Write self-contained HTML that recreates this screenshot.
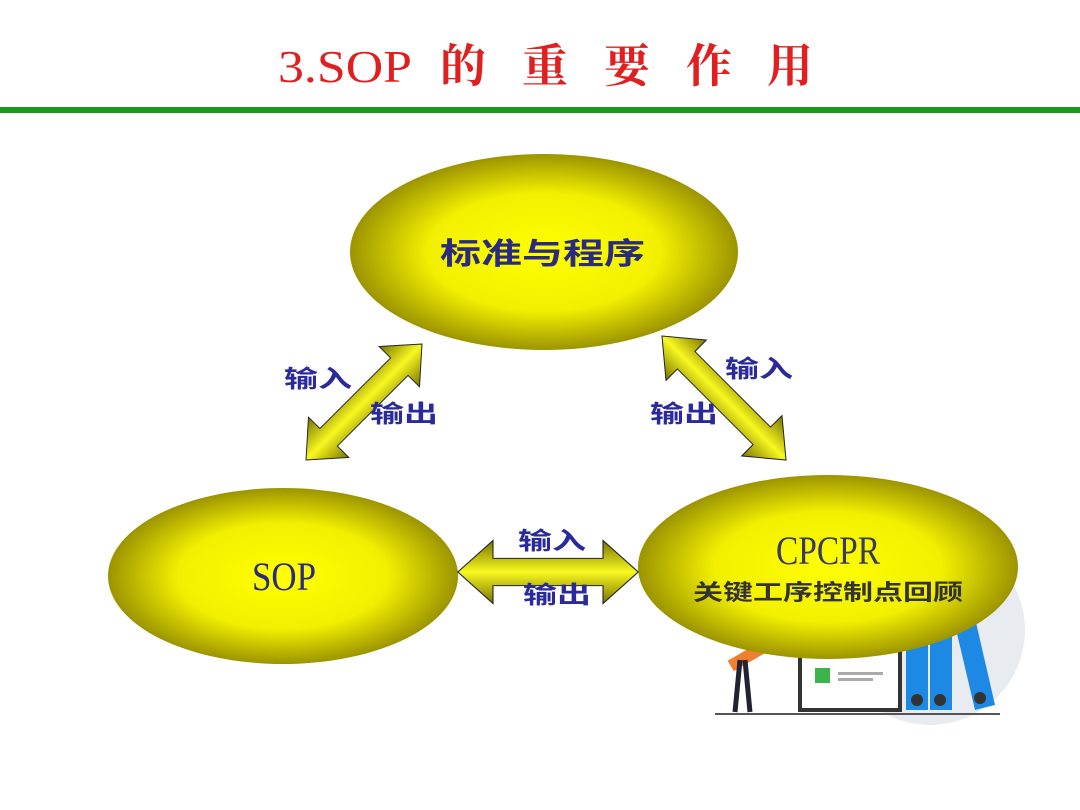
<!DOCTYPE html>
<html><head><meta charset="utf-8"><style>
body{margin:0;background:#fff;}
svg{display:block;}
</style></head><body>
<svg width="1080" height="810" viewBox="0 0 1080 810" xmlns="http://www.w3.org/2000/svg">
<defs>
<radialGradient id="g" cx="50%" cy="50%" r="50%">
<stop offset="0" stop-color="#ffff00"/><stop offset="0.6" stop-color="#f2f000"/><stop offset="1" stop-color="#9c9400"/>
</radialGradient>
<linearGradient id="a" x1="0" y1="0" x2="0" y2="1">
<stop offset="0" stop-color="#7a7400"/><stop offset="0.5" stop-color="#f8f820"/><stop offset="1" stop-color="#7a7400"/>
</linearGradient>
<g id="arr"><polygon points="-82,0 -50,-30 -50,-13 50,-13 50,-30 82,0 50,30 50,13 -50,13 -50,30" fill="url(#a)" stroke="#222" stroke-width="1"/></g>
</defs>
<g fill="#e02020">
<text x="278" y="82" textLength="134" lengthAdjust="spacingAndGlyphs" font-family="'Liberation Serif',serif" font-size="46">3.SOP</text>
<g font-family="'Noto Serif CJK SC','Noto Sans CJK SC',serif" font-size="46" font-weight="bold">
<text x="440" y="82">的</text><text x="522" y="82">重</text><text x="604" y="82">要</text><text x="686" y="82">作</text><text x="767" y="82">用</text>
</g></g>
<rect x="0" y="107" width="1080" height="6" fill="#1a9a1a"/>

<!-- illustration -->
<circle cx="930" cy="630" r="95" fill="#e8ecf0"/>
<rect x="800" y="635" width="100" height="75" fill="#fff" stroke="#333" stroke-width="4"/>
<rect x="815" y="668" width="15" height="15" fill="#3cb44a"/>
<rect x="838" y="672" width="45" height="3" fill="#aaa"/><rect x="838" y="678" width="35" height="3" fill="#aaa"/>
<rect x="906" y="640" width="22" height="70" fill="#1e88e5"/><rect x="930" y="630" width="22" height="80" fill="#1e88e5"/>
<polygon points="955,625 975,618 995,705 975,710" fill="#1e88e5"/>
<circle cx="917" cy="700" r="6" fill="#333"/><circle cx="940" cy="700" r="6" fill="#333"/><circle cx="980" cy="698" r="6" fill="#333"/>
<rect x="728" y="650" width="40" height="12" fill="#f08030" transform="rotate(-30 748 656)"/>
<line x1="740" y1="660" x2="735" y2="712" stroke="#223" stroke-width="5"/><line x1="745" y1="660" x2="750" y2="712" stroke="#223" stroke-width="5"/>
<line x1="715" y1="714" x2="1000" y2="714" stroke="#555" stroke-width="2"/>

<ellipse cx="544" cy="252" rx="194" ry="98" fill="url(#g)"/>
<ellipse cx="283" cy="576" rx="175" ry="88" fill="url(#g)"/>
<ellipse cx="828" cy="567" rx="190" ry="92" fill="url(#g)"/>

<use href="#arr" transform="translate(364,402) rotate(-45) scale(1.0,0.95)"/>
<use href="#arr" transform="translate(724,398) rotate(45) scale(1.07,0.95)"/>
<use href="#arr" transform="translate(548,572) scale(1.1,1.05)"/>

<g font-family="'Noto Sans CJK SC','Liberation Sans',sans-serif" font-weight="bold" fill="#2a2a9a" font-size="24">
<text x="440" y="264" textLength="205" lengthAdjust="spacingAndGlyphs" font-size="30" fill="#2a2a80">标准与程序</text>
<text x="284" y="387" textLength="68" lengthAdjust="spacingAndGlyphs">输入</text>
<text x="370" y="422" textLength="68" lengthAdjust="spacingAndGlyphs">输出</text>
<text x="725" y="377" textLength="68" lengthAdjust="spacingAndGlyphs">输入</text>
<text x="650" y="422" textLength="68" lengthAdjust="spacingAndGlyphs">输出</text>
<text x="518" y="549" textLength="68" lengthAdjust="spacingAndGlyphs">输入</text>
<text x="523" y="603" textLength="68" lengthAdjust="spacingAndGlyphs">输出</text>
<text x="693" y="600" textLength="270" lengthAdjust="spacingAndGlyphs" font-size="22" fill="#333">关键工序控制点回顾</text>
</g>
<text x="252" y="590" textLength="64" lengthAdjust="spacingAndGlyphs" font-family="'Liberation Serif',serif" font-size="40" fill="#2a2a80">SOP</text>
<text x="776" y="564" textLength="104" lengthAdjust="spacingAndGlyphs" font-family="'Liberation Serif',serif" font-size="40" fill="#3a3a60">CPCPR</text>
</svg>
</body></html>
